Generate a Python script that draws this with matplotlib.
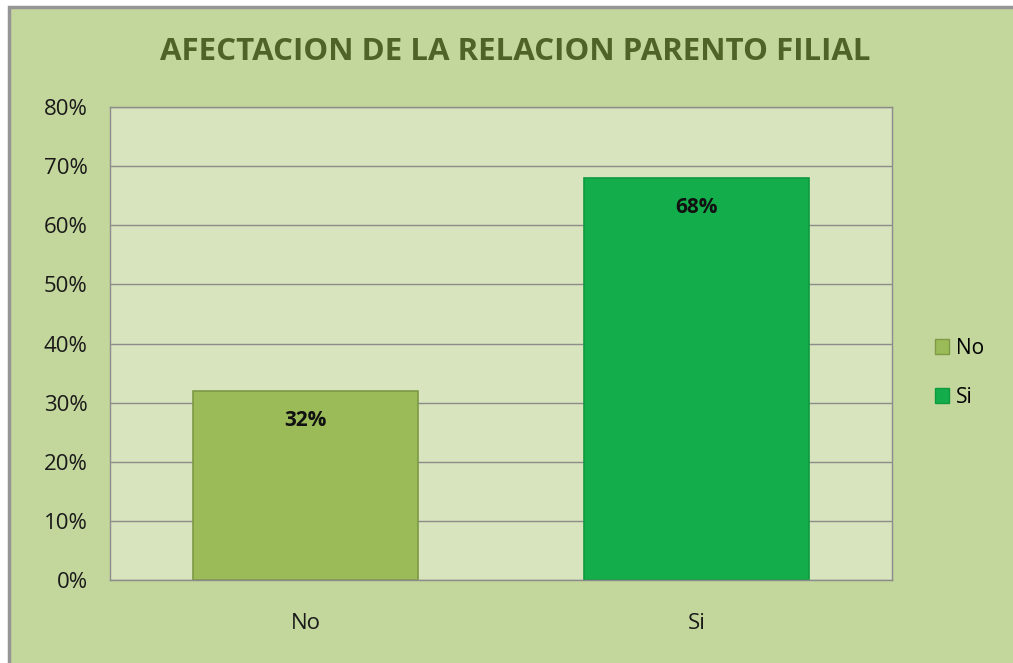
import matplotlib
matplotlib.use("Agg")
import matplotlib.pyplot as plt
from matplotlib.patches import Rectangle, Patch
from matplotlib.ticker import PercentFormatter

categories = ["No", "Si"]
values = [32, 68]
bar_colors = ["#9BBB59", "#14AD4B"]
edge_colors = ["#7E9A45", "#0F9A40"]
yticks = [0, 10, 20, 30, 40, 50, 60, 70, 80]
title = "AFECTACION DE LA RELACION PARENTO FILIAL"

plt.rcParams["font.family"] = ["Open Sans", "DejaVu Sans"]

W, H = 1013, 663
fig = plt.figure(figsize=(W / 100, H / 100), dpi=100, facecolor="white")

# chart frame (green area with grey border running off the right/bottom)
fig.patches.append(Rectangle((9 / W, -0.05), 1.05, 1.05 - 7 / H, transform=fig.transFigure,
                             facecolor="#C3D69B", edgecolor="#959595", lw=2.5, zorder=-10))

ax = fig.add_axes([110 / W, 1 - 580 / H, (892 - 110) / W, (580 - 107) / H])
ax.set_facecolor("#D7E4BD")
ax.set_axisbelow(True)
ax.grid(axis="y", color="#8C8C8C", lw=1.0)

x = range(len(categories))
ax.bar(x, values, width=0.573, color=bar_colors, edgecolor=edge_colors, lw=1.2, zorder=2)
for xi, v in zip(x, values):
    ax.text(xi, v - 5, f"{v}%", ha="center", va="center", fontsize=15,
            fontweight="bold", color="#111111", zorder=3)

ax.set_xlim(-0.5, 1.5)
ax.set_ylim(0, 80)
ax.set_yticks(yticks)
ax.yaxis.set_major_formatter(PercentFormatter(decimals=0))
ax.set_xticks(list(x))
ax.set_xticklabels(categories)
ax.tick_params(axis="both", length=0, labelsize=16, colors="#1A1A1A")
ax.tick_params(axis="x", pad=24)
ax.tick_params(axis="y", pad=16)
for s in ax.spines.values():
    s.set_color("#8C8C8C")
    s.set_linewidth(1.0)

fig.text(515 / W, 1 - 52 / H, title, ha="center", va="center", fontsize=22.5,
         fontweight="bold", color="#4F6228")

handles = [Patch(facecolor=c, edgecolor=e, lw=1.0, label=l)
           for c, e, l in zip(bar_colors, edge_colors, categories)]
fig.legend(handles=handles, loc="center left", bbox_to_anchor=(916 / W, 1 - 373 / H),
           frameon=False, fontsize=15, handlelength=0.7, handleheight=0.7,
           handletextpad=0.3, labelspacing=1.35)

fig.savefig("out.png", dpi=100, facecolor="white")
